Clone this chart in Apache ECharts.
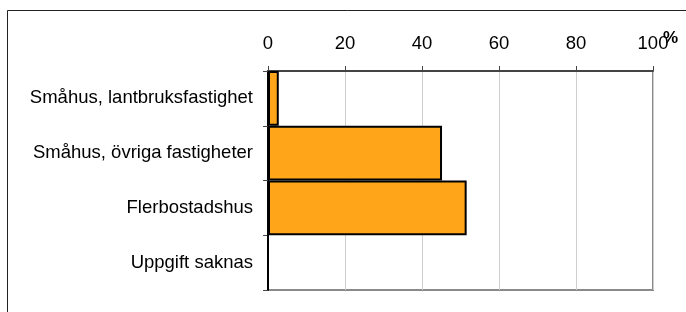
<!DOCTYPE html>
<html>
<head>
<meta charset="utf-8">
<script src="https://cdn.jsdelivr.net/npm/echarts@6/dist/echarts.min.js"></script>
<style>
  html, body { margin: 0; padding: 0; background: #fff; }
  #chart { width: 686px; height: 312px; }
</style>
</head>
<body>
<div id="chart"></div>
<script>
var categories = ['Småhus, lantbruksfastighet', 'Småhus, övriga fastigheter', 'Flerbostadshus', 'Uppgift saknas']
var values = [2.8, 45.2, 51.6, 0]
var ticks = [0, 20, 40, 60, 80, 100]

var chart = echarts.init(document.getElementById('chart'))

chart.setOption({
  animation: false,
  textStyle: { fontFamily: 'Liberation Sans, Arial, sans-serif' },
  graphic: [
    {
      type: 'rect',
      shape: { x: 7.5, y: 10.5, width: 700, height: 320 },
      style: { fill: 'none', stroke: '#222', lineWidth: 1 }
    },
    {
      type: 'text',
      left: 663,
      top: 30,
      style: { text: '%', font: 'bold 17px Liberation Sans, Arial, sans-serif', fill: '#000' }
    }
  ],
  grid: {
    left: 268,
    right: 33,
    top: 71,
    bottom: 22,
    show: true,
    borderColor: '#8a8a8a',
    borderWidth: 2
  },
  xAxis: {
    type: 'value',
    position: 'top',
    min: ticks[0],
    max: ticks[ticks.length - 1],
    interval: 20,
    axisLine: { show: true, lineStyle: { color: '#444', width: 2 } },
    axisTick: { show: true, length: 5, lineStyle: { color: '#444' } },
    axisLabel: { fontSize: 18.5, color: '#000', margin: 18 },
    splitLine: { show: true, lineStyle: { color: '#cfcfcf', width: 1 } }
  },
  yAxis: {
    type: 'category',
    inverse: true,
    data: categories,
    axisLine: { show: true, lineStyle: { color: '#000', width: 2 } },
    axisTick: { show: true, length: 5, lineStyle: { color: '#444' } },
    axisLabel: { fontSize: 18.5, color: '#000', margin: 15 },
    splitLine: { show: false }
  },
  series: [
    {
      type: 'bar',
      data: values,
      barCategoryGap: '0%',
      itemStyle: {
        color: '#FFA51A',
        borderColor: '#000',
        borderWidth: 2
      }
    }
  ]
})
</script>
</body>
</html>
